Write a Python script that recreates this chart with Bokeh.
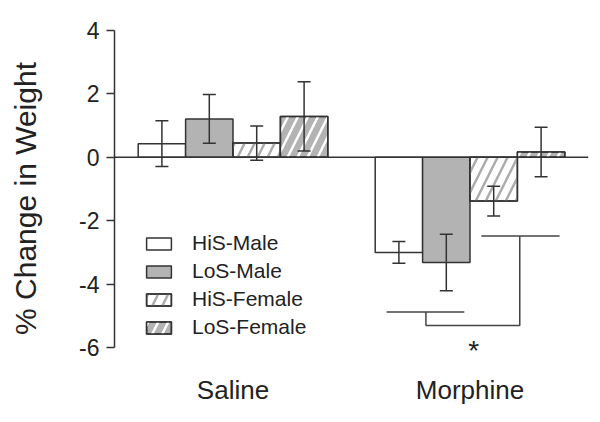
from bokeh.plotting import figure
from bokeh.models import (Range1d, FixedTicker, LinearAxis, Span, Whisker, TeeHead,
                          ColumnDataSource, Legend, LegendItem, Label)
from bokeh.embed import file_html
from bokeh.resources import INLINE

# ---------------- data ----------------
groups = ["Saline", "Morphine"]
series = ["HiS-Male", "LoS-Male", "HiS-Female", "LoS-Female"]

his_male = [0.43, -3.00]
his_male_err = [0.72, 0.34]
los_male = [1.21, -3.32]
los_male_err = [0.77, 0.89]
his_female = [0.45, -1.38]
his_female_err = [0.54, 0.47]
los_female = [1.29, 0.17]
los_female_err = [1.09, 0.78]

y_ticks = [-6, -4, -2, 0, 2, 4]
y_tick_labels = ["-6", "-4", "-2", "0", "2", "4"]

# significance bracket (data units)
bracket_xs = [[3.24, 4.88], [4.07, 4.07, 6.05, 6.05], [5.24, 6.89]]
bracket_ys = [[-4.88, -4.88], [-4.88, -5.31, -5.31, -2.48], [-2.48, -2.48]]
sig_x = 5.08
sig_y = -6.08
sig_text = "*"

# ---------------- styling ----------------
FONT = "Liberation Sans"
INK = "#333333"
GREY = "#b3b3b3"
group_gap = 5.0
bar_w = 1.0
offsets = [-1.5, -0.5, 0.5, 1.5]
group_pos = [i * group_gap for i in range(len(groups))]

values = [his_male, los_male, his_female, los_female]
errors = [his_male_err, los_male_err, his_female_err, los_female_err]
base_fill = ["white", GREY, "white", GREY]
hatch_col = [None, None, "#acacac", "white"]

p = figure(width=600, height=422,
           x_range=Range1d(-2.5, 7.5), y_range=Range1d(-6.6, 4),
           x_axis_type=None, y_axis_type=None,
           output_backend="svg", toolbar_location=None,
           min_border_left=114, min_border_right=12,
           min_border_top=30, min_border_bottom=56)
p.outline_line_color = None
p.background_fill_color = "white"
p.border_fill_color = "white"

# y axis (line limited to the tick span)
yaxis = LinearAxis(ticker=FixedTicker(ticks=y_ticks), bounds=(min(y_ticks), max(y_ticks)),
                   major_label_overrides={t: s for t, s in zip(y_ticks, y_tick_labels)})
yaxis.axis_line_color = INK
yaxis.axis_line_width = 1.5
yaxis.major_tick_line_color = INK
yaxis.major_tick_line_width = 1.5
yaxis.major_tick_out = 8
yaxis.major_tick_in = 0
yaxis.minor_tick_line_color = None
yaxis.major_label_text_font = FONT
yaxis.major_label_text_font_size = "23px"
yaxis.major_label_text_color = "#222222"
yaxis.major_label_standoff = 7
yaxis.axis_label = "% Change in Weight"
yaxis.axis_label_text_font = FONT
yaxis.axis_label_text_font_size = "30px"
yaxis.axis_label_text_font_style = "normal"
yaxis.axis_label_text_color = "#222222"
yaxis.axis_label_standoff = 34
p.add_layout(yaxis, "left")

# category axis
xaxis = LinearAxis(ticker=FixedTicker(ticks=group_pos),
                   major_label_overrides={gp: g for gp, g in zip(group_pos, groups)})
xaxis.axis_line_color = None
xaxis.major_tick_line_color = None
xaxis.minor_tick_line_color = None
xaxis.major_tick_out = 0
xaxis.major_tick_in = 0
xaxis.major_label_text_font = FONT
xaxis.major_label_text_font_size = "26px"
xaxis.major_label_text_color = "#222222"
xaxis.major_label_standoff = 8
p.add_layout(xaxis, "below")

# zero line
p.add_layout(Span(location=0, dimension="width", line_color=INK, line_width=1.5))

items = []
for i, name in enumerate(series):
    xs = [gp + offsets[i] for gp in group_pos]
    tops = values[i]
    errs = errors[i]
    src = ColumnDataSource(dict(
        x=xs, top=tops,
        upper=[t + e for t, e in zip(tops, errs)],
        lower=[t - e for t, e in zip(tops, errs)],
    ))
    rends = []
    r = p.vbar(x="x", top="top", bottom=0, width=bar_w, source=src,
               fill_color=base_fill[i], line_color=INK, line_width=1.5)
    rends.append(r)
    if hatch_col[i] is not None:
        rh = p.vbar(x="x", top="top", bottom=0, width=bar_w, source=src,
                    fill_color=None, hatch_pattern="right_diagonal_line",
                    hatch_color=hatch_col[i], hatch_scale=20, hatch_weight=2.5,
                    line_color=INK, line_width=1.5)
        rends.append(rh)
    items.append(LegendItem(label=name, renderers=rends))
    w = Whisker(source=src, base="x", upper="upper", lower="lower",
                line_color=INK, line_width=1.5, level="annotation",
                upper_head=TeeHead(size=13, line_color=INK, line_width=1.5),
                lower_head=TeeHead(size=13, line_color=INK, line_width=1.5))
    p.add_layout(w)

# significance bracket
p.multi_line(xs=bracket_xs, ys=bracket_ys, line_color="#444444", line_width=1.5)
p.add_layout(Label(x=sig_x, y=sig_y, text=sig_text, text_align="center",
                   text_baseline="middle", text_font=FONT, text_font_size="28px",
                   text_color="#222222"))

legend = Legend(items=items, location=(29, 27),
                glyph_width=31, glyph_height=15, label_height=24, label_width=10,
                spacing=4, padding=0, margin=0,
                border_line_alpha=0, background_fill_alpha=0,
                label_text_font=FONT, label_text_font_size="21px",
                label_text_color="#222222", label_standoff=18)
p.add_layout(legend)

open("out.html", "w").write(file_html(p, INLINE))
